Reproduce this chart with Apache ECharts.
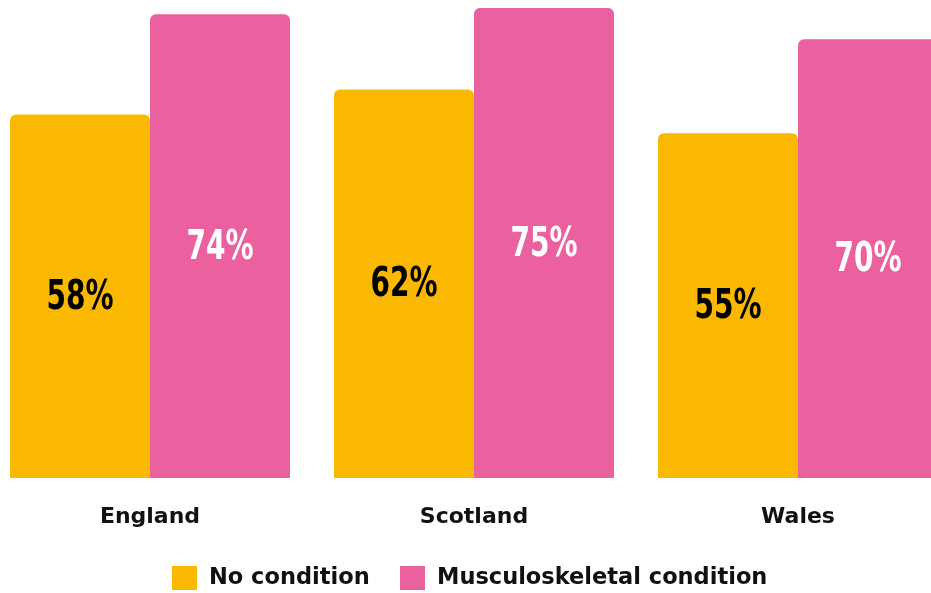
<!DOCTYPE html>
<html>
<head>
<meta charset="utf-8">
<script src="https://cdn.jsdelivr.net/npm/echarts@6/dist/echarts.min.js"></script>
<style>
  html, body { margin: 0; padding: 0; background: #ffffff; }
  #chart { width: 931px; height: 593px; }
</style>
</head>
<body>
<div id="chart"></div>
<script>
// Share of people (%) by nation, split by condition status
const nations = ['England', 'Scotland', 'Wales'];
const noCondition = [58, 62, 55];
const musculoskeletal = [74, 75, 70];
const seriesNames = ['No condition', 'Musculoskeletal condition'];

const YELLOW = '#FBB800';
const PINK = '#EB619F';
const BAR_WIDTH = 140;
const VALUE_FONT = 'bold 41px "DejaVu Sans Condensed", "DejaVu Sans", sans-serif';
const TEXT_FONT = '"DejaVu Sans", sans-serif';

const chart = echarts.init(document.getElementById('chart'), null, { renderer: 'canvas' });

function barSeries(name, values, color) {
  return {
    name: name,
    type: 'bar',
    data: values,
    barWidth: BAR_WIDTH,
    barGap: '0%',
    itemStyle: { color: color, borderRadius: [6, 6, 0, 0] },
    emphasis: { disabled: true }
  };
}

// Condensed percentage labels centred in each bar (text squeezed horizontally)
function valueLabels(id, values, side, color) {
  return {
    id: id,
    type: 'custom',
    silent: true,
    z: 5,
    data: values.map((v, i) => [i, v]),
    encode: { x: 0, y: 1 },
    renderItem: function (params, api) {
      const p = api.coord([api.value(0), api.value(1) / 2]);
      return {
        type: 'text',
        x: p[0] + side * BAR_WIDTH / 2,
        y: p[1] + 2,
        scaleX: 0.76,
        style: {
          text: api.value(1) + '%',
          font: VALUE_FONT,
          fill: color,
          align: 'center',
          verticalAlign: 'middle'
        }
      };
    }
  };
}

function legendItem(name, left) {
  return {
    data: [name],
    left: left,
    top: 566,
    padding: 0,
    icon: 'rect',
    itemWidth: 25,
    itemHeight: 24,
    selectedMode: false,
    textStyle: {
      fontFamily: TEXT_FONT,
      fontWeight: 'bold',
      fontSize: 22.5,
      color: '#111111',
      padding: [0, 0, 0, 7]
    }
  };
}

chart.setOption({
  animation: false,
  backgroundColor: '#ffffff',
  grid: {
    left: -12, right: -29, top: 8, bottom: 115,
    containLabel: false,
    outerBoundsMode: 'none'
  },
  legend: [
    legendItem(seriesNames[0], 172),
    legendItem(seriesNames[1], 400)
  ],
  xAxis: {
    type: 'category',
    data: nations,
    boundaryGap: true,
    axisLine: { show: false },
    axisTick: { show: false },
    axisLabel: {
      margin: 28,
      fontFamily: TEXT_FONT,
      fontWeight: 'bold',
      fontSize: 22,
      color: '#111111'
    }
  },
  yAxis: {
    type: 'value',
    min: 0,
    max: 75,
    show: false,
    splitLine: { show: false }
  },
  series: [
    barSeries(seriesNames[0], noCondition, YELLOW),
    barSeries(seriesNames[1], musculoskeletal, PINK),
    valueLabels('noConditionLabels', noCondition, -1, '#000000'),
    valueLabels('mskLabels', musculoskeletal, 1, '#ffffff')
  ]
});
</script>
</body>
</html>
